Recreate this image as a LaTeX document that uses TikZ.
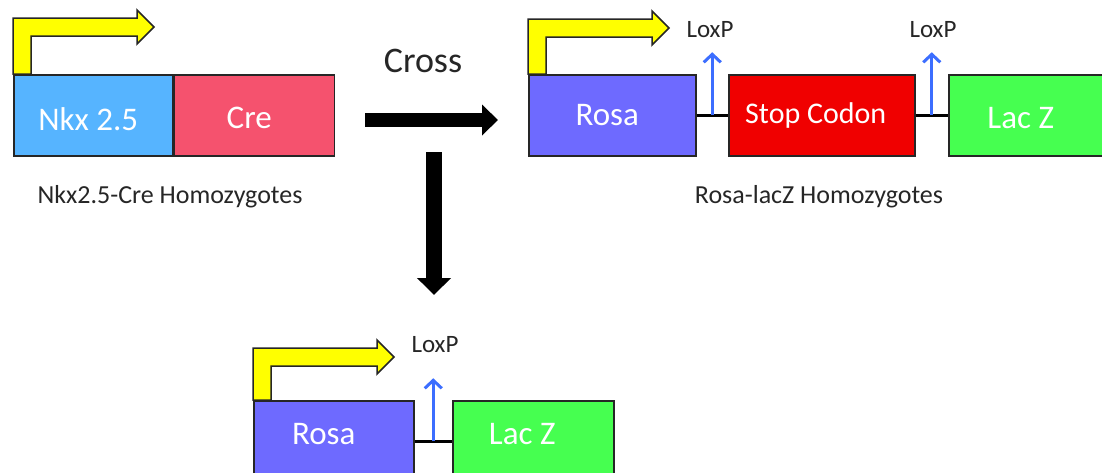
\documentclass[tikz,border=0pt]{standalone}
\usepackage{fontspec}
\setmainfont{Carlito}
\usetikzlibrary{arrows.meta,calc}
\definecolor{nkxblue}{RGB}{86,180,255}
\definecolor{crered}{RGB}{245,82,110}
\definecolor{rosapurple}{RGB}{110,106,255}
\definecolor{stopred}{RGB}{240,0,0}
\definecolor{laczgreen}{RGB}{70,255,80}
\definecolor{loxblue}{RGB}{60,110,255}
\definecolor{labelgray}{RGB}{38,38,38}
\definecolor{promyellow}{RGB}{255,255,0}
\begin{document}
\begin{tikzpicture}[x=1pt,y=-1pt,
 gene/.style={draw=black!85, line width=1.5pt, rectangle, minimum height=81pt, anchor=north west, inner sep=0pt},
 boxtext/.style={text=white, font=\fontsize{33}{40}\selectfont},
 caption/.style={text=labelgray, font=\fontsize{26}{31}\selectfont, anchor=base},
 loxtext/.style={text=labelgray, font=\fontsize{25}{30}\selectfont},
 linker/.style={draw=black, line width=3pt},
 loxarrow/.style={draw=loxblue, line width=3pt, -{Straight Barb[length=8pt,width=17pt]}},
 promfill/.style={fill=promyellow, draw=black!85, line width=1.5pt, line join=miter},
 pics/promoter/.style={code={\draw[promfill] (0,0) -- (0,-#1) -- (124,-#1) -- (124,-#1-8) -- (141,-#1+9) -- (124,-#1+26) -- (124,-#1+18) -- (18,-#1+18) -- (18,0) -- cycle;}}
]
\path[use as bounding box] (0,0) rectangle (1102,472);
\clip (0,0) rectangle (1102,472);

% Nkx2.5-Cre construct
\node[gene, fill=nkxblue, minimum width=159pt] (nkx) at (13,74) {};
\node[gene, fill=crered, minimum width=160pt] (cre) at (nkx.north east) {};
\pic at (nkx.north west) {promoter=56};
\node[boxtext, xshift=-5pt, yshift=-4pt] (nkxlab) at (nkx.center) {Nkx 2.5};
\node[boxtext, xshift=-5pt, yshift=-3pt] (crelab) at (cre.center) {Cre};
\node[caption] (cap1) at (170,203) {Nkx2.5-Cre Homozygotes};

% Cross arrows
\node[text=labelgray, font=\fontsize{36}{43}\selectfont] (cross) at (423,61) {Cross};
\coordinate (hs) at (365,120);
\coordinate (he) at (498,120);
\draw[black, line width=14pt, -{Triangle[length=16pt,width=30pt]}] (hs) -- (he);
\coordinate (vs) at (434,152);
\coordinate (ve) at (434,295);
\draw[black, line width=16pt, -{Triangle[length=17pt,width=33pt]}] (vs) -- (ve);

% Rosa-lacZ construct
\node[gene, fill=rosapurple, minimum width=167pt] (rosa) at (528,74) {};
\node[gene, fill=stopred, minimum width=186pt] (stop) at (728,74) {};
\node[gene, fill=laczgreen, minimum width=160pt] (lacz) at (948,74) {};
\pic at (rosa.north west) {promoter=55};
\draw[linker] (rosa.east) -- (stop.west);
\draw[linker] (stop.east) -- (lacz.west);
\node[boxtext, xshift=-5pt] (rosalab) at (rosa.center) {Rosa};
\node[boxtext, xshift=-6pt, font=\fontsize{30}{36}\selectfont] (stoplab) at (stop.center) {Stop Codon};
\node[boxtext, xshift=-8pt, yshift=-3pt] (laczlab) at (lacz.center) {Lac Z};
\coordinate (lox1) at ($(rosa.east)!0.5!(stop.west)$);
\coordinate (lox1t) at ($(lox1)+(0,-63)$);
\draw[loxarrow] (lox1) -- (lox1t);
\coordinate (lox2) at ($(stop.east)!0.5!(lacz.west)$);
\coordinate (lox2t) at ($(lox2)+(0,-63)$);
\draw[loxarrow] (lox2) -- (lox2t);
\node[loxtext] (loxlab1) at (710,29.5) {LoxP};
\node[loxtext] (loxlab2) at (933,29.5) {LoxP};
\node[caption] (cap2) at (819,203) {Rosa-lacZ Homozygotes};

% Recombined product
\node[gene, fill=rosapurple, minimum width=160pt] (rosab) at (253,400) {};
\node[gene, fill=laczgreen, minimum width=161pt] (laczb) at (452,400) {};
\pic at (rosab.north west) {promoter=52};
\draw[linker] (rosab.east) -- (laczb.west);
\node[boxtext, xshift=-10pt, yshift=7pt] (rosablab) at (rosab.center) {Rosa};
\node[boxtext, xshift=-11pt, yshift=7pt] (laczblab) at (laczb.center) {Lac Z};
\coordinate (lox3) at ($(rosab.east)!0.5!(laczb.west)$);
\coordinate (lox3t) at ($(lox3)+(0,-63)$);
\draw[loxarrow] (lox3) -- (lox3t);
\node[loxtext] (loxlab3) at (435,345) {LoxP};
\end{tikzpicture}
\end{document}
